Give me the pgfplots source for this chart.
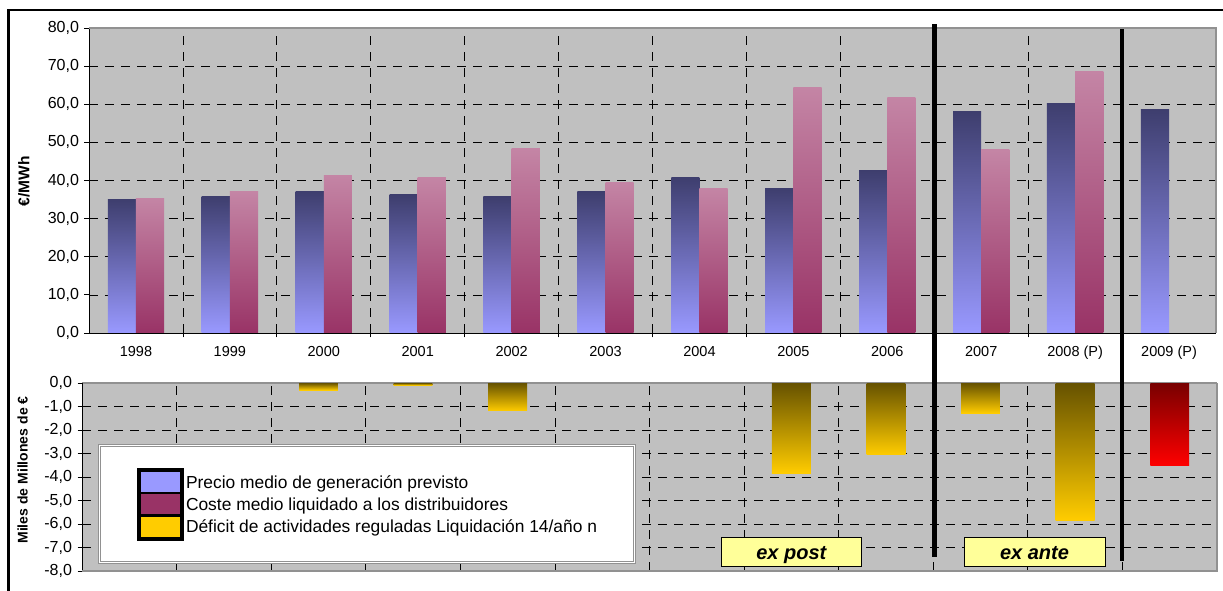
\documentclass[border=0pt]{standalone}
\usepackage{pgfplots}
\usepackage{pgfplotstable}
\pgfplotsset{compat=1.18}
\usepackage{fontspec}
\setmainfont{Liberation Sans}

\definecolor{bggray}{RGB}{192,192,192}
\definecolor{bordergray}{RGB}{145,145,145}
\definecolor{bluetop}{RGB}{62,62,110}
\definecolor{bluebot}{RGB}{153,153,255}
\definecolor{pinktop}{RGB}{196,133,165}
\definecolor{pinkbot}{RGB}{153,51,102}
\definecolor{yeltop}{RGB}{102,82,0}
\definecolor{yelbot}{RGB}{255,204,0}
\definecolor{redtop}{RGB}{120,0,0}
\definecolor{redbot}{RGB}{255,0,0}
\definecolor{boxyellow}{RGB}{255,255,153}

\pgfplotstableread{
x y
0 35.1
1 35.9
2 37.2
3 36.2
4 35.7
5 37.0
6 40.9
7 38.0
8 42.5
9 58.0
10 60.3
11 58.6
}\bluedata

\pgfplotstableread{
x y
0 35.4
1 37.0
2 41.4
3 40.7
4 48.3
5 39.6
6 38.0
7 64.5
8 61.9
9 48.0
10 68.5
}\pinkdata

\pgfplotstableread{
x y
2 -0.30
3 -0.09
4 -1.19
7 -3.83
8 -3.06
9 -1.28
10 -5.83
}\deficitdata

\pgfplotstableread{
x y
11 -3.53
}\deficitred

\tikzset{
  periodbox/.style={fill=boxyellow, draw=black, line width=0.8pt, minimum width=140pt,
    minimum height=29pt, inner sep=0pt, text height=15.6pt, text depth=0pt,
    font=\fontsize{20}{24}\selectfont\bfseries\itshape},
}

\pgfplotsset{
  common/.style={
    scale only axis, enlargelimits=false, clip=false,
    xmin=-0.5, xmax=11.5,
    axis background/.style={fill=bggray},
    tick align=outside,
    major tick length=4.5pt,
    tick style={black, line width=0.8pt},
    grid=major,
    major grid style={black, line width=0.7pt, dash pattern=on 9pt off 7pt},
    tick label style={font=\fontsize{16}{19}\selectfont},
    yticklabel style={xshift=-2pt,
      /pgf/number format/fixed, /pgf/number format/fixed zerofill,
      /pgf/number format/precision=1, /pgf/number format/use comma,
      /pgf/number format/assume math mode=true},
  },
  legblue/.style={legend image code/.code={
      \fill[black] (0pt,-10.75pt) rectangle (46pt,10.75pt);
      \fill[black,overlay] (0pt,10pt) rectangle (46pt,13.5pt);
      \fill[bluebot] (4pt,-9.5pt) rectangle (42pt,9.5pt);}},
  legpink/.style={legend image code/.code={
      \fill[black] (0pt,-10.75pt) rectangle (46pt,10.75pt);
      \fill[pinkbot] (4pt,-9.5pt) rectangle (42pt,9.5pt);}},
  legyel/.style={legend image code/.code={
      \fill[black] (0pt,-10.75pt) rectangle (46pt,10.75pt);
      \fill[black,overlay] (0pt,-13.5pt) rectangle (46pt,-10pt);
      \fill[yelbot] (4pt,-9.5pt) rectangle (42pt,9.5pt);}},
}

\begin{document}
\begin{tikzpicture}[x=1pt,y=1pt]
\useasboundingbox (0,0) rectangle (1223,591);

% ---------------- bottom axis: deficit ----------------
\begin{axis}[common,
  at={(82pt,20pt)}, anchor=south west,
  width=1135pt, height=188pt,
  ymin=-8, ymax=0,
  axis x line*=top, axis y line*=left,
  x axis line style={draw=bordergray, line width=1.2pt},
  y axis line style={draw=black, line width=0.8pt},
  xtick={0.5,1.5,...,10.5}, xticklabels={},
  x tick style={draw=none},
  ytick={-8,-7,...,0},
  ylabel={\bfseries Miles de Millones de €},
  ylabel style={font=\fontsize{14}{16}\selectfont, at={(axis description cs:-0.0524,0.537)}, anchor=center, rotate=0},
  legend cell align=left,
  legend style={at={(0.01524,0.6686)}, anchor=north west,
    draw=bordergray, double=white, double distance=1pt, line width=0.8pt,
    fill=white, inner xsep=37.5pt, inner ysep=25pt,
    font=\fontsize{17.4}{20}\selectfont,
    nodes={inner sep=0pt, text height=12.4pt, text depth=0pt},
    column sep=2pt, row sep=0pt},
]
\addlegendimage{legblue}
\addlegendentry{Precio medio de generación previsto}
\addlegendimage{legpink}
\addlegendentry{Coste medio liquidado a los distribuidores}
\addlegendimage{legyel}
\addlegendentry{Déficit de actividades reguladas Liquidación 14/año n}
\pgfplotsinvokeforeach{2,3,4,7,8,9,10}{
  \addplot[ybar, bar width=0.41, bar shift=0, draw=none, forget plot,
    top color=yeltop, bottom color=yelbot,
    restrict x to domain=#1:#1] table[x=x,y=y] {\deficitdata};
}
\addplot[ybar, bar width=0.41, bar shift=0, draw=none,
  top color=redtop, bottom color=redbot, forget plot] table[x=x,y=y] {\deficitred};
\draw[bordergray, line width=1.2pt] (rel axis cs:0,0) -- (rel axis cs:1,0) -- (rel axis cs:1,1);
\node[periodbox] at (axis cs:7,-7.17) {ex post};
\node[periodbox, minimum width=141pt] at (axis cs:9.57,-7.17) {ex ante};
\end{axis}

% ---------------- top axis: prices ----------------
\begin{axis}[common,
  at={(89pt,258pt)}, anchor=south west,
  width=1127pt, height=305pt,
  ymin=0, ymax=80,
  axis x line*=bottom, axis y line*=left,
  axis line style={draw=black, line width=0.8pt},
  xtick={0.5,1.5,...,10.5}, xticklabels={},
  extra x ticks={0,1,...,11},
  extra x tick labels={1998,1999,2000,2001,2002,2003,2004,2005,2006,2007,2008 (P),2009 (P)},
  extra x tick style={grid=none, major tick length=0pt},
  xticklabel style={font=\fontsize{14.5}{17}\selectfont, yshift=-9pt, text height=10.5pt},
  ytick={0,10,...,80},
  ylabel={\bfseries €/MWh},
  ylabel style={font=\fontsize{15.5}{18}\selectfont, at={(axis description cs:-0.0577,0.497)}, anchor=center, rotate=0},
]
\pgfplotsinvokeforeach{0,...,11}{
  \addplot[ybar, bar width=0.3, bar shift=-0.15, draw=none, forget plot,
    top color=bluetop, bottom color=bluebot,
    restrict x to domain=#1:#1] table[x=x,y=y] {\bluedata};
}
\pgfplotsinvokeforeach{0,...,10}{
  \addplot[ybar, bar width=0.3, bar shift=0.15, draw=none, forget plot,
    top color=pinktop, bottom color=pinkbot,
    restrict x to domain=#1:#1] table[x=x,y=y] {\pinkdata};
}
\draw[bordergray, line width=1.2pt] (rel axis cs:0,1) -- (rel axis cs:1,1) -- (rel axis cs:1,0);
\draw[black, line width=4.5pt] (axis cs:8.5,81.0) -- (axis cs:8.5,-58.75);
\draw[black, line width=4.5pt] (axis cs:10.5,79.7) -- (axis cs:10.5,-59.8);
\end{axis}

% outer frame
\draw[black, line width=2.5pt, line join=miter] (8.7,0) -- (8.7,580.8) -- (1223,580.8);
\end{tikzpicture}
\end{document}
